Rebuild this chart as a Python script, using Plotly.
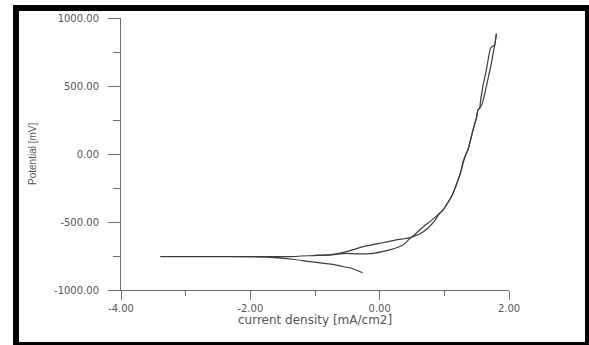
import plotly.graph_objects as go

# Forward scan: cathodic branch from start potential to Ecorr, then anodic branch up
fwd_x = [-0.263, -0.437, -0.617, -0.726, -1.081, -1.344, -1.750, -2.000, -2.600, -3.393,
         -2.600, -2.000, -1.390, -0.975, -0.771, -0.513, -0.360, -0.102, 0.155, 0.361,
         0.491, 0.620, 0.740, 0.850, 0.929, 0.982, 1.111, 1.135, 1.213, 1.263, 1.290, 1.341, 1.366,
         1.444, 1.496, 1.521, 1.547, 1.589, 1.650, 1.728, 1.779, 1.805]
fwd_y = [-873, -840, -823, -811, -792, -774, -759, -756, -755, -755,
         -755, -755, -755, -745, -742, -731, -735, -730, -705, -669,
         -612, -588, -548, -492, -435, -411, -313, -288, -190, -117, -67, 6, 31,
         178, 264, 325, 337, 374, 497, 669, 803, 884]

# Reverse scan: back down from the vertex
rev_x = [1.805, 1.779, 1.715, 1.650, 1.596, 1.556, 1.547, 1.521, 1.496, 1.444, 1.366,
         1.341, 1.285, 1.263, 1.213, 1.135, 1.111, 0.982, 0.929, 0.800, 0.660, 0.491, 0.260,
         0.002, -0.255, -0.513, -0.771, -1.000]
rev_y = [884, 803, 779, 619, 497, 374, 337, 325, 264, 178, 31,
         6, -62, -117, -190, -288, -313, -411, -435, -488, -540, -612, -632,
         -656, -681, -718, -741, -746]

x_tickvals = [-4, -2, 0, 2]
x_ticktext = ["-4.00", "-2.00", "0.00", "2.00"]
x_minor = [-3, -1, 1]
y_tickvals = [-1000, -500, 0, 500, 1000]
y_ticktext = ["-1000.00", "-500.00", "0.00", "500.00", "1000.00"]
y_minor = [-750, -250, 250, 750]

x_title = "current density [mA/cm2]"
y_title = "Potential [mV]"

W, H = 589, 345
L, R, T, B = 121, 80, 18, 55
pw, ph = W - L - R, H - T - B


def px(x):
    return (x - L) / pw


def py(y):
    return (H - B - y) / ph


fig = go.Figure()
line_style = dict(color="#3c3c3c", width=1.2, shape="spline", smoothing=0.4)
fig.add_trace(go.Scatter(x=fwd_x, y=fwd_y, mode="lines", line=line_style,
                         showlegend=False, hoverinfo="skip"))
fig.add_trace(go.Scatter(x=rev_x, y=rev_y, mode="lines", line=line_style,
                         showlegend=False, hoverinfo="skip"))

tickfont = dict(family="DejaVu Sans", size=10, color="#555555")
axis_common = dict(showgrid=False, zeroline=False, showline=True, linecolor="#6e6e6e",
                   linewidth=1, ticks="outside", tickcolor="#6e6e6e", tickwidth=1,
                   tickfont=tickfont)

fig.update_xaxes(range=[-4, 2], tickmode="array", tickvals=x_tickvals, ticktext=x_ticktext,
                 ticklen=9,
                 minor=dict(tickmode="array", tickvals=x_minor, ticks="outside", ticklen=5,
                            tickcolor="#6e6e6e", tickwidth=1),
                 **axis_common)
fig.update_yaxes(range=[-1000, 1000], tickmode="array", tickvals=y_tickvals, ticktext=y_ticktext,
                 ticklen=12, ticklabelstandoff=7,
                 minor=dict(tickmode="array", tickvals=y_minor, ticks="outside", ticklen=7,
                            tickcolor="#6e6e6e", tickwidth=1),
                 **axis_common)

fig.add_annotation(text=x_title, xref="paper", yref="paper", x=0.5, y=py(320),
                   showarrow=False, xanchor="center", yanchor="middle",
                   font=dict(family="DejaVu Sans", size=12, color="#555555"))
fig.add_annotation(text=y_title, xref="paper", yref="paper", x=px(32), y=py(154),
                   showarrow=False, xanchor="center", yanchor="middle", textangle=-90,
                   font=dict(family="Liberation Sans", size=10, color="#555555"))

# black frame around the picture
fig.add_shape(type="rect", xref="paper", yref="paper",
              x0=px(16), x1=px(588), y0=py(345), y1=py(8),
              line=dict(color="black", width=6), fillcolor="rgba(0,0,0,0)", layer="above")

fig.update_layout(width=W, height=H, margin=dict(l=L, r=R, t=T, b=B, autoexpand=False),
                  plot_bgcolor="white", paper_bgcolor="white")

fig.write_html("out.html")
